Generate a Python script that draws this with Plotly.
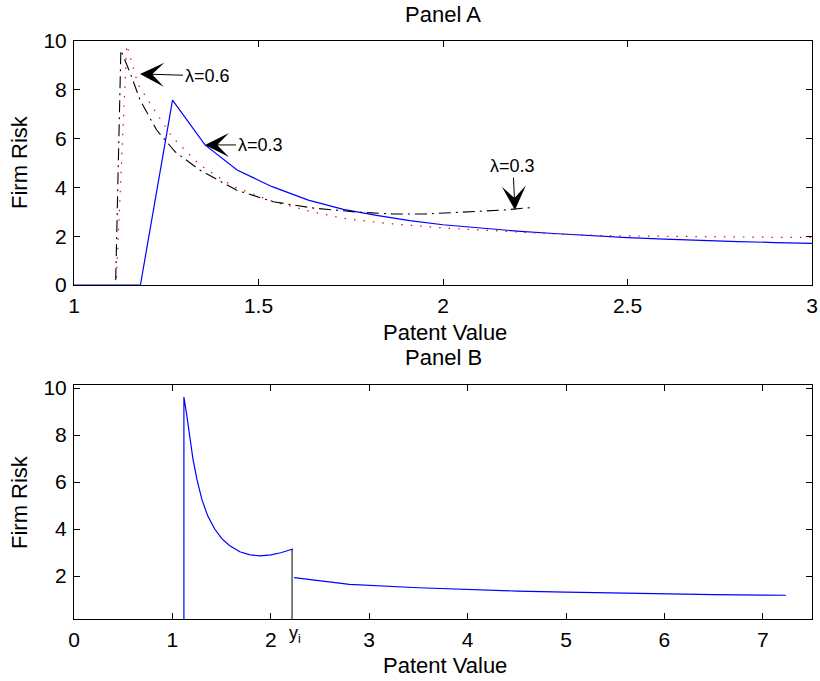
import plotly.graph_objects as go

W, H = 820, 681

# ---------------- data ----------------
# Panel A
a_blue_x = [1.00, 1.18, 1.267, 1.355, 1.442, 1.537, 1.635, 1.73, 1.82, 1.91, 2.00, 2.10, 2.20, 2.30, 2.40, 2.50, 2.60, 2.70, 2.80, 2.90, 3.00]
a_blue_y = [0.0, 0.0, 7.58, 5.74, 4.71, 4.03, 3.48, 3.10, 2.85, 2.64, 2.47, 2.33, 2.21, 2.11, 2.02, 1.94, 1.88, 1.82, 1.78, 1.74, 1.71]

a_red_x = [1.115, 1.143, 1.174, 1.206, 1.265, 1.341, 1.432, 1.54, 1.64, 1.73, 1.85, 2.00, 2.15, 2.30, 2.45, 2.60, 2.75, 2.90, 3.00]
a_red_y = [0.3, 9.84, 8.20, 7.45, 6.08, 4.92, 4.03, 3.42, 3.02, 2.73, 2.52, 2.34, 2.20, 2.09, 2.02, 1.99, 1.97, 1.955, 1.95]

a_black_x = [1.113, 1.127, 1.156, 1.179, 1.224, 1.274, 1.341, 1.44, 1.54, 1.65, 1.775, 1.865, 1.95, 2.02, 2.10, 2.163, 2.236]
a_black_y = [0.2, 9.63, 8.54, 7.58, 6.35, 5.46, 4.71, 3.89, 3.41, 3.15, 2.98, 2.91, 2.91, 2.96, 3.01, 3.07, 3.17]

# Panel B
b_seg1_x = [1.117, 1.117, 1.144, 1.178, 1.21, 1.25, 1.30, 1.36, 1.43, 1.50, 1.58, 1.685, 1.79, 1.89, 2.00, 2.10, 2.226]
b_seg1_y = [0.0, 9.62, 8.90, 7.80, 6.95, 6.10, 5.25, 4.55, 4.00, 3.60, 3.30, 3.03, 2.90, 2.86, 2.90, 2.99, 3.15]

b_seg2_x = [2.237, 2.50, 2.80, 3.50, 4.00, 4.50, 5.00, 5.50, 6.00, 6.50, 7.00, 7.235]
b_seg2_y = [1.93, 1.78, 1.64, 1.50, 1.42, 1.36, 1.31, 1.27, 1.24, 1.21, 1.19, 1.18]

y_i = 2.216
b_yi_x = [y_i, y_i]
b_yi_y = [0.0, 3.15]

a_xticks = [1, 1.5, 2, 2.5, 3]
a_xticklabels = ["1", "1.5", "2", "2.5", "3"]
a_yticks = [0, 2, 4, 6, 8, 10]
b_xticks = [0, 1, 2, 3, 4, 5, 6, 7]
b_yticks = [2, 4, 6, 8, 10]

FONT = "Liberation Sans, Arial, Helvetica, sans-serif"

fig = go.Figure()
fig.add_trace(go.Scatter(x=a_blue_x, y=a_blue_y, mode="lines",
                         line=dict(color="#0000ff", width=1.2), xaxis="x", yaxis="y"))
fig.add_trace(go.Scatter(x=a_red_x, y=a_red_y, mode="lines",
                         line=dict(color="#ff0000", width=1.2, dash="1.5px,8px"), xaxis="x", yaxis="y"))
fig.add_trace(go.Scatter(x=a_black_x, y=a_black_y, mode="lines",
                         line=dict(color="#000000", width=1.1, dash="12px,5px,2px,5px"), xaxis="x", yaxis="y"))

fig.add_trace(go.Scatter(x=b_seg1_x, y=b_seg1_y, mode="lines",
                         line=dict(color="#0000ff", width=1.2), xaxis="x2", yaxis="y2"))
fig.add_trace(go.Scatter(x=b_seg2_x, y=b_seg2_y, mode="lines",
                         line=dict(color="#0000ff", width=1.2), xaxis="x2", yaxis="y2"))
fig.add_trace(go.Scatter(x=b_yi_x, y=b_yi_y, mode="lines",
                         line=dict(color="#000000", width=1), xaxis="x2", yaxis="y2"))


def px_x(p):
    return p / W


def px_y(p):
    return 1 - p / H


axis_common = dict(showline=True, linecolor="black", linewidth=1, mirror="ticks",
                   ticks="inside", ticklen=6, tickcolor="black", tickwidth=1,
                   showgrid=False, zeroline=False, automargin=False,
                   tickfont=dict(family=FONT, size=21, color="black"))

xdom = [px_x(74), px_x(812)]
fig.update_layout(
    width=W, height=H,
    margin=dict(l=0, r=0, t=0, b=0),
    paper_bgcolor="white", plot_bgcolor="white",
    showlegend=False, hovermode=False,
    font=dict(family=FONT, color="black"),
    xaxis=dict(domain=xdom, range=[1, 3], tickvals=a_xticks, ticktext=a_xticklabels,
               anchor="y", ticklabelstandoff=2, **axis_common),
    yaxis=dict(domain=[px_y(285), px_y(41)], range=[0, 10], tickvals=a_yticks,
               anchor="x", ticklabelstandoff=2, **axis_common),
    xaxis2=dict(domain=xdom, range=[0, 7.5], tickvals=b_xticks,
                anchor="y2", ticklabelstandoff=2, **axis_common),
    yaxis2=dict(domain=[px_y(619), px_y(385)], range=[0.17, 10.13], tickvals=b_yticks,
                anchor="x2", ticklabelstandoff=2, **axis_common),
)

lab = dict(family=FONT, size=22, color="black")
ann = []
ann.append(dict(text="Panel A", xref="paper", yref="paper", x=px_x(443), y=px_y(14),
                showarrow=False, font=lab, xanchor="center", yanchor="middle"))
ann.append(dict(text="Panel B", xref="paper", yref="paper", x=px_x(443), y=px_y(357),
                showarrow=False, font=lab, xanchor="center", yanchor="middle"))
ann.append(dict(text="Patent Value", xref="paper", yref="paper", x=px_x(445), y=px_y(332),
                showarrow=False, font=lab, xanchor="center", yanchor="middle"))
ann.append(dict(text="Patent Value", xref="paper", yref="paper", x=px_x(445), y=px_y(665),
                showarrow=False, font=lab, xanchor="center", yanchor="middle"))
ann.append(dict(text="Firm Risk", xref="paper", yref="paper", x=px_x(20), y=px_y(162),
                showarrow=False, font=lab, textangle=-90, xanchor="center", yanchor="middle"))
ann.append(dict(text="Firm Risk", xref="paper", yref="paper", x=px_x(20), y=px_y(502),
                showarrow=False, font=lab, textangle=-90, xanchor="center", yanchor="middle"))

small = dict(family=FONT, size=18, color="black")
arrow = dict(showarrow=True, arrowhead=3, arrowsize=4, arrowwidth=1, arrowcolor="black",
             axref="pixel", ayref="pixel", font=small)
ann.append(dict(text="λ=0.6", xref="x", yref="y", x=1.179, y=8.65, ax=67, ay=2, **arrow))
ann.append(dict(text="λ=0.3", xref="x", yref="y", x=1.355, y=5.74, ax=55, ay=0, **arrow))
ann.append(dict(text="λ=0.3", xref="x", yref="y", x=2.195, y=3.07, ax=-2, ay=-44, **arrow))

ann.append(dict(text="y<sub>i</sub>", xref="x2", yref="paper", x=2.25, y=px_y(634),
                showarrow=False, font=small, xanchor="center", yanchor="middle"))

fig.update_layout(annotations=ann)

fig.write_html("out.html",
               config={"displayModeBar": False, "staticPlot": True},
               post_script="document.body.style.margin='0';document.body.style.overflow='hidden';")
